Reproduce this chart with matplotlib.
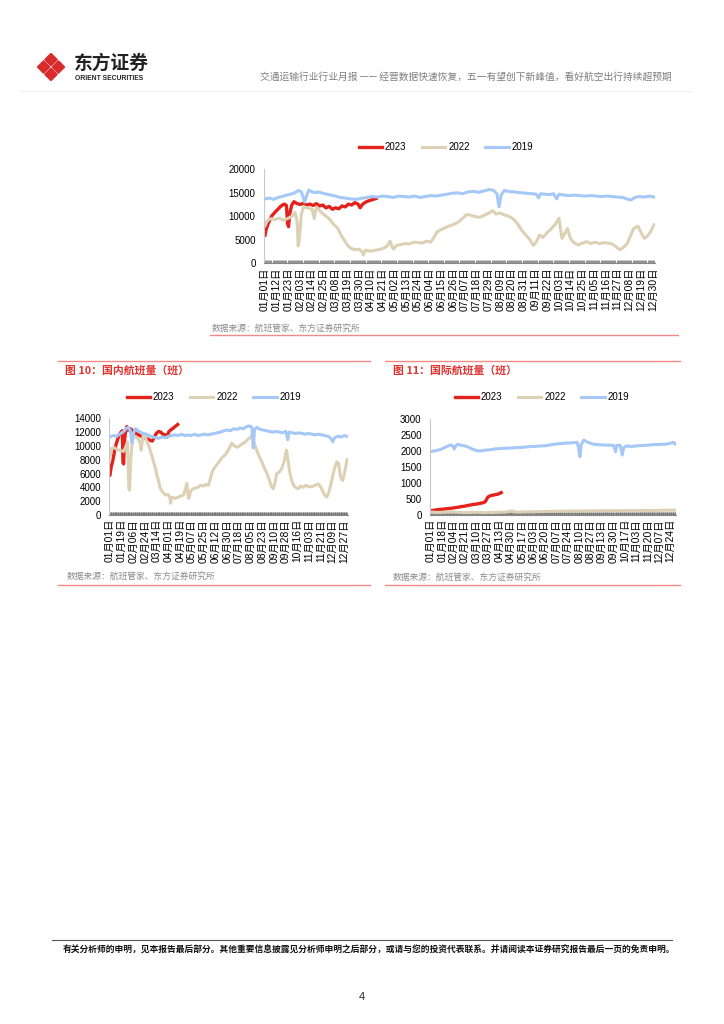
import numpy as np
import pandas as pd
import matplotlib
matplotlib.use("Agg")
import matplotlib.pyplot as plt
from matplotlib.patches import Polygon

plt.rcParams['font.family'] = ['Liberation Sans', 'Noto Sans CJK SC']
plt.rcParams['axes.unicode_minus'] = False

CJK = ['Noto Sans CJK SC', 'DejaVu Sans']

# ---------------- data (day of year, value) ----------------
# total flights
top_2023_day = [0, 1, 3, 6, 9, 12, 15, 18, 20, 21, 22, 23, 25, 27, 30, 33, 36, 39, 42, 45, 48, 51, 54,
                57, 60, 63, 66, 69, 72, 75, 78, 81, 84, 87, 89, 91, 94, 97, 100, 104]
top_2023_val = [6000, 7200, 8500, 10000, 10800, 11500, 12200, 12600, 12300, 8500, 7800, 10500, 12400,
                13100, 12700, 12500, 12800, 12400, 12600, 12300, 12700, 12200, 12400, 11800, 12100,
                11500, 11800, 11600, 12200, 12000, 12600, 12400, 12900, 12600, 11800, 12500, 13000,
                13300, 13500, 13800]

top_2022_day = [0, 2, 5, 9, 13, 17, 21, 25, 28, 30, 31, 32, 34, 36, 40, 44, 46, 48, 52, 56, 60, 64, 68,
                71, 74, 77, 80, 84, 88, 91, 92, 94, 98, 102, 106, 110, 114, 117, 119, 120, 123, 127,
                131, 135, 139, 143, 147, 151, 155, 158, 161, 165, 169, 173, 177, 181, 185, 189, 193,
                197, 201, 205, 209, 213, 216, 220, 224, 228, 232, 236, 240, 244, 248, 251, 254, 257,
                260, 264, 268, 272, 275, 278, 281, 283, 286, 289, 293, 297, 301, 305, 309, 313, 317,
                321, 325, 328, 332, 335, 339, 342, 345, 349, 352, 355, 358, 361, 364]
top_2022_val = [8000, 9000, 9500, 9300, 9600, 9200, 9500, 10000, 10800, 9000, 3700, 5000, 10500, 12000,
                11800, 11500, 9500, 12000, 11000, 10200, 9500, 8300, 7500, 6000, 5000, 3900, 3200,
                2900, 3000, 2400, 1800, 2800, 2600, 2700, 2900, 3100, 3600, 4700, 3500, 3000, 3800,
                4000, 4200, 4100, 4500, 4400, 4300, 4700, 4500, 5500, 6700, 7200, 7600, 8000, 8300,
                8800, 9600, 10400, 10200, 9900, 9800, 10200, 10600, 11200, 10500, 10700, 10300,
                10000, 9500, 8500, 7100, 6000, 5000, 3800, 4600, 6000, 5500, 6500, 7400, 8400, 9600,
                5300, 6500, 7400, 5200, 4400, 3900, 4300, 4600, 4200, 4500, 4200, 4400, 4300, 4100,
                3600, 2900, 3300, 4200, 5800, 7400, 7900, 6500, 5300, 5800, 6800, 8200]

top_2019_day = [0, 4, 8, 12, 16, 20, 24, 28, 31, 34, 36, 37, 39, 41, 44, 47, 50, 54, 58, 62, 66, 70,
                75, 80, 85, 90, 95, 100, 105, 110, 115, 120, 125, 130, 135, 140, 145, 150, 155, 160,
                165, 170, 175, 180, 185, 190, 195, 200, 205, 210, 214, 217, 219, 221, 224, 228, 232,
                236, 240, 245, 250, 254, 256, 258, 262, 266, 270, 273, 275, 280, 285, 290, 295, 300,
                305, 310, 315, 320, 325, 330, 335, 340, 343, 346, 350, 355, 360, 364]
top_2019_val = [13700, 13900, 13600, 14000, 14200, 14500, 14700, 15000, 15500, 15200, 13800, 13000,
                14500, 15600, 15200, 15000, 15200, 14900, 14700, 14500, 14300, 14000, 13900, 13700,
                13600, 13800, 14000, 14200, 14100, 14300, 14200, 14000, 14300, 14200, 14100, 14300,
                14000, 14200, 14400, 14300, 14500, 14700, 14900, 15000, 14800, 15200, 15300, 15100,
                15400, 15700, 15500, 14800, 12000, 14500, 15500, 15300, 15200, 15100, 15000, 14900,
                14800, 14700, 13900, 14800, 14700, 14600, 14800, 13700, 14700, 14500, 14400, 14500,
                14400, 14300, 14400, 14300, 14200, 14300, 14200, 14100, 14000, 13600, 13500, 14000,
                14200, 14100, 14300, 14100]

# domestic flights
dom_2023_day = [0, 2, 4, 7, 9, 12, 14, 17, 19, 20, 21, 22, 24, 26, 28, 31, 34, 37, 40, 44, 48, 52, 55,
                58, 62, 65, 68, 71, 75, 78, 81, 85, 88, 90, 93, 96, 100, 104]
dom_2023_val = [5800, 7000, 7700, 9200, 10100, 11000, 11600, 12000, 12200, 7600, 7400, 10500, 12100,
                12800, 12300, 12500, 12300, 12100, 11800, 11600, 11400, 11200, 11100, 11000, 10800,
                10700, 11200, 11800, 12100, 12000, 11700, 11600, 11300, 12000, 12300, 12500, 12800,
                13100]

dom_2022_day = [0, 2, 6, 10, 14, 18, 21, 24, 27, 29, 30, 32, 35, 39, 43, 46, 48, 50, 52, 56, 60, 64,
                67, 70, 72, 75, 77, 81, 85, 89, 92, 93, 95, 100, 105, 110, 113, 116, 118, 120, 121,
                124, 128, 131, 135, 139, 143, 147, 151, 154, 157, 161, 165, 169, 173, 177, 181, 185,
                187, 191, 195, 199, 203, 207, 211, 215, 218, 221, 225, 229, 233, 237, 241, 245, 248,
                251, 254, 256, 260, 264, 268, 271, 274, 276, 279, 282, 286, 289, 293, 297, 301, 305,
                310, 315, 320, 324, 327, 330, 333, 336, 340, 344, 348, 351, 354, 357, 360, 364]
dom_2022_val = [8200, 9600, 9800, 9500, 9400, 9300, 9200, 9800, 10600, 3800, 3600, 8000, 11600, 11300,
                11100, 10500, 9400, 11000, 11800, 10800, 9900, 8700, 7700, 6700, 5800, 4800, 3900,
                3300, 2900, 3000, 2500, 1700, 2600, 2400, 2600, 2800, 2900, 3800, 4600, 2800, 2400,
                3500, 3800, 3900, 4000, 4300, 4200, 4400, 4300, 5200, 6300, 6900, 7400, 7900, 8400,
                8700, 9300, 10000, 10400, 10000, 9800, 10000, 10300, 10500, 10900, 11200, 11600,
                10600, 9400, 8500, 7700, 6800, 6000, 5000, 4100, 3800, 5000, 6000, 6200, 6800, 8000,
                9400, 7500, 6200, 5000, 4300, 3900, 3800, 4200, 4000, 4300, 4100, 4100, 4300, 4500,
                4000, 3400, 2800, 2600, 3300, 4800, 6500, 7700, 7500, 5500, 5000, 6000, 8000]

dom_2019_day = [0, 5, 10, 15, 20, 25, 28, 31, 33, 34, 36, 39, 43, 47, 51, 55, 60, 65, 70, 75, 80, 85,
                90, 95, 100, 105, 110, 115, 120, 125, 130, 135, 140, 145, 150, 155, 160, 165, 170,
                175, 180, 185, 190, 195, 200, 205, 210, 214, 218, 220, 222, 226, 230, 235, 240, 245,
                250, 255, 260, 265, 270, 273, 275, 280, 285, 290, 295, 300, 305, 310, 315, 320, 325,
                330, 335, 339, 342, 345, 350, 355, 360, 364]
dom_2019_val = [11300, 11500, 11400, 11700, 12000, 12500, 12700, 12300, 11000, 10400, 11800, 12500,
                12200, 12000, 11800, 11700, 11500, 11300, 11200, 11100, 11300, 11200, 11400, 11500,
                11600, 11500, 11700, 11500, 11600, 11500, 11700, 11500, 11600, 11700, 11600, 11700,
                11800, 11900, 12000, 12200, 12300, 12200, 12500, 12400, 12600, 12500, 12800, 12900,
                12700, 9700, 12400, 12700, 12400, 12300, 12200, 12100, 12000, 12100, 12000, 11900,
                12100, 10900, 12000, 11900, 11800, 11900, 11800, 11700, 11800, 11700, 11600, 11700,
                11600, 11500, 11400, 11100, 10600, 11200, 11400, 11300, 11500, 11400]

# international flights
intl_2023_day = [0, 5, 10, 15, 20, 25, 30, 35, 40, 45, 50, 55, 59, 64, 69, 74, 78, 81, 83, 85, 89, 94,
                 99, 102, 105]
intl_2023_val = [135, 150, 165, 177, 185, 200, 210, 225, 240, 260, 275, 295, 313, 330, 345, 365, 385,
                 410, 480, 560, 605, 625, 646, 670, 700]

intl_2022_day = [0, 10, 20, 30, 40, 50, 60, 70, 80, 90, 100, 110, 118, 121, 124, 130, 140, 150, 160,
                 170, 180, 190, 200, 210, 220, 230, 240, 250, 260, 270, 280, 290, 300, 310, 320, 330,
                 340, 350, 364]
intl_2022_val = [90, 80, 85, 95, 85, 75, 80, 85, 75, 80, 85, 90, 110, 130, 100, 90, 95, 100, 105, 110,
                 115, 120, 120, 125, 120, 130, 125, 130, 135, 130, 135, 140, 135, 140, 145, 140, 145,
                 150, 150]

intl_2019_day = [0, 5, 10, 15, 20, 25, 30, 33, 35, 37, 40, 45, 50, 54, 58, 62, 66, 69, 74, 79, 84, 89,
                 94, 99, 104, 109, 114, 119, 124, 129, 134, 139, 144, 149, 154, 159, 164, 169, 173,
                 178, 183, 188, 193, 198, 203, 208, 213, 218, 220, 222, 224, 228, 233, 238, 243, 248,
                 253, 258, 263, 268, 272, 274, 275, 277, 282, 284, 285, 287, 292, 297, 302, 307, 312,
                 317, 322, 327, 332, 337, 342, 347, 352, 356, 361, 364]
intl_2019_val = [1980, 2000, 2020, 2050, 2100, 2150, 2190, 2150, 2060, 2150, 2210, 2180, 2160, 2140,
                 2100, 2060, 2030, 2010, 2000, 2020, 2030, 2040, 2060, 2070, 2080, 2080, 2090, 2090,
                 2100, 2110, 2110, 2120, 2130, 2140, 2140, 2150, 2160, 2160, 2170, 2190, 2210, 2220,
                 2230, 2240, 2250, 2250, 2260, 2270, 2100, 1820, 2200, 2340, 2280, 2240, 2210, 2200,
                 2190, 2190, 2180, 2180, 2170, 2050, 1980, 2180, 2170, 2000, 1875, 2100, 2160, 2140,
                 2150, 2160, 2170, 2170, 2180, 2190, 2200, 2200, 2210, 2210, 2220, 2240, 2270, 2220]

series_names = ['2023', '2022', '2019']
colors = ['#E3231B', '#DDD1B5', '#A6C8F7']

dates = pd.date_range('2019-01-01', periods=365)
date_labels = [f"{d.month:02d}月{d.day:02d}日" for d in dates]

W, H = 724, 1024
fig = plt.figure(figsize=(W / 100, H / 100), dpi=100)


def fx(x):
    return x / W


def fy(y):
    return 1 - y / H


def hline(x0, x1, y, color, lw):
    fig.add_artist(plt.Line2D([fx(x0), fx(x1)], [fy(y), fy(y)], color=color, lw=lw))


def draw_panel(box, data, ymax, ystep, label_step, legend_at):
    left, top, right, bottom = box
    ax = fig.add_axes([fx(left), fy(bottom), fx(right - left), (bottom - top) / H])
    for (days, vals), c, name in zip(data, colors, series_names):
        lw = 2.4 if name == '2023' else 2.2
        ax.plot(days, vals, color=c, lw=lw, label=name, solid_joinstyle='round')
    ax.set_xlim(-1, 365)
    ax.set_ylim(0, ymax)
    ax.set_yticks(np.arange(0, ymax + 1, ystep))
    ticks = list(range(0, 365, label_step))
    ax.set_xticks(ticks)
    ax.set_xticklabels([date_labels[t] for t in ticks], rotation=90, fontsize=7.4)
    ax.set_xticks(range(365), minor=True)
    ax.tick_params(axis='x', which='both', direction='in', length=2.5, width=0.5,
                   color='#666666', pad=3)
    ax.tick_params(axis='y', length=0, pad=6, labelsize=7)
    for s in ['top', 'right']:
        ax.spines[s].set_visible(False)
    ax.spines['left'].set_color('#C8C8C8')
    ax.spines['left'].set_linewidth(0.8)
    ax.spines['bottom'].set_color('#888888')
    ax.spines['bottom'].set_linewidth(0.8)
    ax.legend(loc='center', bbox_to_anchor=(fx(legend_at[0]), fy(legend_at[1])),
              bbox_transform=fig.transFigure, ncol=3, frameon=False, fontsize=7,
              handlelength=2.4, handletextpad=0.3, columnspacing=1.6)
    return ax


# ---------------- header ----------------
red_logo = '#D92B2B'
cx, cy, d = 51, 67, 7.4
g = 1.7
for ox, oy in [(0, -d), (0, d), (-d, 0), (d, 0)]:
    px, py = cx + ox, cy + oy
    pts = [(px, py - d + g), (px + d - g, py), (px, py + d - g), (px - d + g, py)]
    fig.add_artist(Polygon([(fx(a), fy(b)) for a, b in pts], closed=True,
                           facecolor=red_logo, edgecolor=red_logo, lw=1.5, joinstyle='round'))
fig.text(fx(74), fy(63.5), '东方证券', family=CJK, fontsize=13.5, fontweight='bold',
         color='#222222', va='center', ha='left')
fig.text(fx(75), fy(78.5), 'ORIENT SECURITIES', family=['Liberation Sans'], fontsize=4.9,
         fontweight='bold', color='#222222', va='center', ha='left')
fig.text(fx(672), fy(77), '交通运输行业行业月报 —— 经营数据快速恢复，五一有望创下新峰值，看好航空出行持续超预期',
         family=CJK, fontsize=7, color='#7F7F7F', va='center', ha='right')
hline(20, 692, 91, '#EEEEEE', 0.6)

# ---------------- top chart ----------------
draw_panel((264, 169.3, 655, 263.3),
           [(top_2023_day, top_2023_val), (top_2022_day, top_2022_val), (top_2019_day, top_2019_val)],
           20000, 5000, 11, (446, 147))
fig.text(fx(212), fy(328), '数据来源：航班管家、东方证券研究所', family=CJK, fontsize=6.3,
         color='#8C8C8C', va='center', ha='left')
hline(210, 678, 335, '#F08A86', 1.0)

# ---------------- figure 10 / 11 ----------------
title_red = '#E0312D'
hline(58, 370, 361, '#F08A86', 1.0)
fig.text(fx(65), fy(370), '图 10：国内航班量（班）', family=CJK, fontsize=7.8, fontweight='bold',
         color=title_red, va='center', ha='left')
draw_panel((109.3, 418.3, 347.7, 515),
           [(dom_2023_day, dom_2023_val), (dom_2022_day, dom_2022_val), (dom_2019_day, dom_2019_val)],
           14000, 2000, 18, (214, 397))
fig.text(fx(67), fy(576), '数据来源：航班管家、东方证券研究所', family=CJK, fontsize=6.3,
         color='#8C8C8C', va='center', ha='left')
hline(58, 370, 584.5, '#F08A86', 1.0)

hline(385, 680, 361, '#F08A86', 1.0)
fig.text(fx(393), fy(370), '图 11：国际航班量（班）', family=CJK, fontsize=7.8, fontweight='bold',
         color=title_red, va='center', ha='left')
draw_panel((430, 419, 676, 515),
           [(intl_2023_day, intl_2023_val), (intl_2022_day, intl_2022_val), (intl_2019_day, intl_2019_val)],
           3000, 500, 17, (542, 397))
fig.text(fx(393), fy(577), '数据来源：航班管家、东方证券研究所', family=CJK, fontsize=6.3,
         color='#8C8C8C', va='center', ha='left')
hline(385, 680, 585, '#F08A86', 1.0)

# ---------------- footer ----------------
hline(52, 672, 940, '#555555', 0.8)
fig.text(fx(63), fy(950), '有关分析师的申明，见本报告最后部分。其他重要信息披露见分析师申明之后部分，或请与您的投资代表联系。并请阅读本证券研究报告最后一页的免责申明。',
         family=CJK, fontsize=6.3, fontweight='bold', color='#111111', va='center', ha='left')
fig.text(fx(362), fy(997), '4', family=['Liberation Sans'], fontsize=8, color='#222222',
         va='center', ha='center')

fig.savefig('out.png', dpi=100)
